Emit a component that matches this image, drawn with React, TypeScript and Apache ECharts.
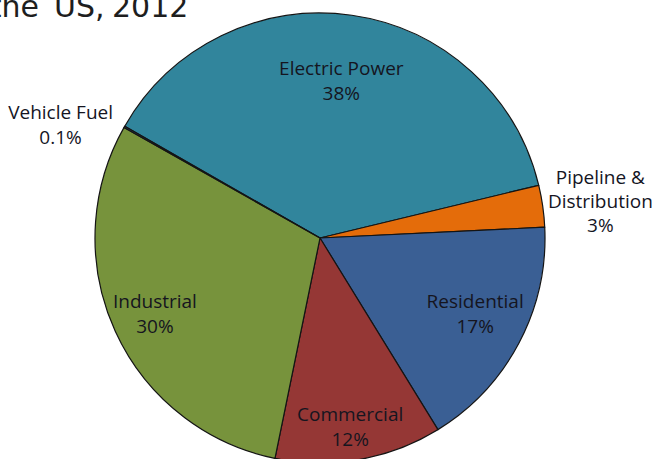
import React, { useEffect, useRef } from "react";
import * as echarts from "echarts";

const sectors = ["Electric Power", "Pipeline &\nDistribution", "Residential", "Commercial", "Industrial", "Vehicle Fuel"];
const shares = [38, 3, 17, 12, 30, 0.1];
const sliceColors = ["#31859C", "#E46C0A", "#3A5F94", "#953735", "#77933C", "#2C4D75"];
// label nudges (dx, dy) from the default inside position
const labelNudgeX = [5, 166, 53, 10, -60, -159];
const labelNudgeY = [-43, -21, 22, 75, 28, -56];
const titleWords = ["the", "US,", "2012"];

export default function App() {
  const ref = useRef<HTMLDivElement>(null);
  useEffect(() => {
    if (!ref.current) return;
    const chart = echarts.init(ref.current, null, { renderer: "svg" });
    const titleFont = "30px 'DejaVu Sans'";
    chart.setOption({
      animation: false,
      backgroundColor: "#ffffff",
      graphic: [
        { type: "text", x: 39, y: 6, style: { text: titleWords[0], align: "right", verticalAlign: "middle", font: titleFont, fill: "#1e1e1e" } },
        { type: "text", x: 54, y: 6, style: { text: titleWords[1], align: "left", verticalAlign: "middle", font: titleFont, fill: "#1e1e1e" } },
        { type: "text", x: 112, y: 6, style: { text: titleWords[2], align: "left", verticalAlign: "middle", font: titleFont, fill: "#1e1e1e" } },
      ],
      series: [
        {
          type: "pie",
          center: [320, 238],
          radius: 225,
          startAngle: 150.2,
          clockwise: true,
          avoidLabelOverlap: false,
          silent: true,
          itemStyle: { borderColor: "#141414", borderWidth: 1.2 },
          label: {
            show: true,
            position: "inside",
            rotate: 0,
            formatter: "{b}\n{c}%",
            fontFamily: "'Open Sans'",
            fontSize: 19,
            lineHeight: 25,
            color: "#15151f",
            align: "center",
          },
          labelLine: { show: false },
          labelLayout: (p: any) => ({ dx: labelNudgeX[p.dataIndex], dy: labelNudgeY[p.dataIndex] }),
          data: sectors.map((name, i) => ({
            name,
            value: shares[i],
            itemStyle: { color: sliceColors[i] },
            label: i === 1 ? { lineHeight: 24 } : undefined,
          })),
        },
      ],
    });
    return () => chart.dispose();
  }, []);
  return <div ref={ref} style={{ position: "fixed", left: 0, top: 0, width: 657, height: 459 }} />;
}
